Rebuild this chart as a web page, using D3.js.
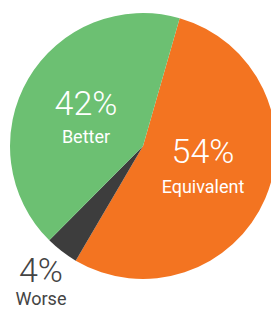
<!DOCTYPE html>
<html>
<head>
<meta charset="utf-8">
<script src="https://cdn.jsdelivr.net/npm/d3@7"></script>
<style>
  body { margin: 0; background: #fff; }
  text { font-family: "Roboto", "Liberation Sans", sans-serif; }
</style>
</head>
<body>
<div id="pie"></div>
<script>
var width = 271,
	height = 311;

// slices in drawing order, clockwise
var categories = ["Equivalent", "Worse", "Better"];
var values = [54, 4, 42];
var colors = ["#f37421", "#3d3d3d", "#6cc072"];

var cx = 143, cy = 146, radius = 133;
var startDeg = 16;

var svg = d3.select("#pie").append("svg")
  .attr("width", width)
  .attr("height", height);

var g = svg.append("g").attr("transform", "translate(" + cx + "," + cy + ")");

var pie = d3.pie()
  .sort(null)
  .value(function(d) { return d.value; })
  .startAngle(startDeg * Math.PI / 180)
  .endAngle((startDeg + 360) * Math.PI / 180);

var arc = d3.arc().innerRadius(0).outerRadius(radius);

var data = categories.map(function(c, i) { return {name: c, value: values[i], color: colors[i]}; });
var arcs = pie(data);

g.selectAll("path")
  .data(arcs)
  .enter().append("path")
    .attr("d", arc)
    .attr("fill", function(d) { return d.data.color; });

// label placement: [x offset, y offset from centre, gap to second line, text colour]
var labelPos = {
  "Equivalent": [60, 17, 30, "#fff"],
  "Better": [-57, -31, 28, "#fff"],
  "Worse": [-102, 136, 23, "#444"]
};

var labels = g.selectAll("g.label")
  .data(arcs)
  .enter().append("g")
    .attr("class", "label")
    .attr("text-anchor", "middle")
    .attr("transform", function(d) {
      var p = labelPos[d.data.name];
      return "translate(" + p[0] + "," + p[1] + ")";
    });

labels.append("text")
  .attr("font-size", 34)
  .attr("font-weight", 300)
  .attr("fill", function(d) { return labelPos[d.data.name][3]; })
  .text(function(d) { return d.data.value + "%"; });

labels.append("text")
  .attr("y", function(d) { return labelPos[d.data.name][2]; })
  .attr("font-size", 18)
  .attr("fill", function(d) { return labelPos[d.data.name][3]; })
  .text(function(d) { return d.data.name; });
</script>
</body>
</html>
